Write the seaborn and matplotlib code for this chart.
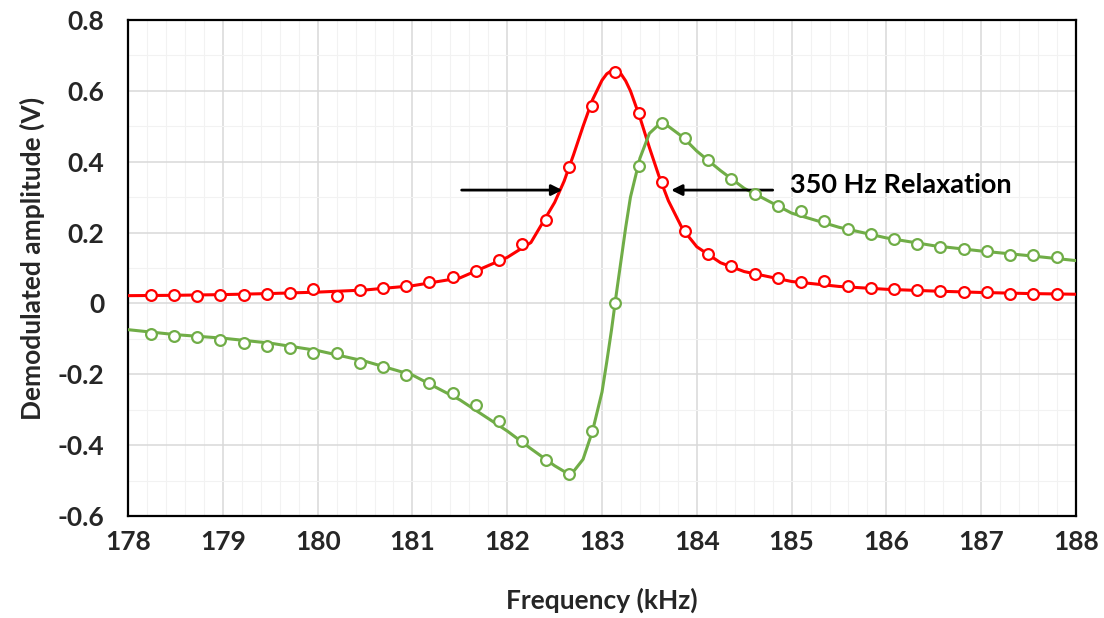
import matplotlib.pyplot as plt
import seaborn as sns
import numpy as np
import pandas as pd

# Points mesurés (cercles) : fréquence en kHz, amplitudes en V
freq = [178.24, 178.485, 178.73, 178.975, 179.22, 179.465, 179.71, 179.955,
        180.2, 180.445, 180.69, 180.935, 181.18, 181.425, 181.67, 181.915,
        182.16, 182.405, 182.65, 182.895, 183.14, 183.385, 183.63, 183.875,
        184.12, 184.365, 184.61, 184.855, 185.1, 185.345, 185.59, 185.835,
        186.08, 186.325, 186.57, 186.815, 187.06, 187.305, 187.55, 187.795]
in_phase = [0.023, 0.023, 0.020, 0.023, 0.025, 0.027, 0.029, 0.040,
            0.020, 0.037, 0.044, 0.049, 0.060, 0.074, 0.091, 0.123,
            0.167, 0.236, 0.385, 0.556, 0.653, 0.538, 0.342, 0.204,
            0.140, 0.106, 0.084, 0.072, 0.060, 0.062, 0.048, 0.044,
            0.040, 0.037, 0.034, 0.031, 0.031, 0.028, 0.028, 0.026]
quadrature = [-0.086, -0.091, -0.095, -0.102, -0.111, -0.119, -0.126, -0.140,
              -0.140, -0.168, -0.180, -0.201, -0.224, -0.252, -0.288, -0.333,
              -0.387, -0.442, -0.481, -0.361, 0.000, 0.387, 0.508, 0.468,
              0.404, 0.352, 0.308, 0.274, 0.260, 0.233, 0.211, 0.197,
              0.183, 0.169, 0.159, 0.154, 0.148, 0.138, 0.136, 0.131]

# Courbes ajustées (traits continus)
fit_freq = [178.0, 178.5, 179.0, 179.5, 180.0, 180.5, 181.0, 181.5, 182.0,
            182.25, 182.5, 182.6, 182.7, 182.8, 182.9, 183.0, 183.05, 183.1,
            183.15, 183.2, 183.25, 183.3, 183.4, 183.5, 183.6, 183.7, 183.85,
            184.0, 184.25, 184.5, 185.0, 185.5, 186.0, 186.5, 187.0, 187.5,
            188.0]
fit_in_phase = [0.022, 0.023, 0.025, 0.028, 0.032, 0.038, 0.050, 0.072, 0.130,
                0.172, 0.285, 0.345, 0.420, 0.500, 0.575, 0.630, 0.648, 0.657,
                0.658, 0.648, 0.628, 0.600, 0.525, 0.440, 0.360, 0.290, 0.210,
                0.160, 0.115, 0.090, 0.062, 0.048, 0.040, 0.035, 0.031, 0.028,
                0.026]
fit_quadrature = [-0.074, -0.088, -0.098, -0.112, -0.133, -0.163, -0.202, -0.272, -0.360,
                  -0.410, -0.458, -0.474, -0.474, -0.440, -0.360, -0.250, -0.165, -0.075,
                  0.025, 0.120, 0.215, 0.300, 0.410, 0.480, 0.505, 0.500, 0.470,
                  0.430, 0.375, 0.325, 0.255, 0.215, 0.185, 0.163, 0.148, 0.135,
                  0.121]

rouge = '#FF0000'
vert = '#70AD47'

sns.set_theme(style="white")
plt.rcParams['font.family'] = ['Lato', 'DejaVu Sans']
plt.rcParams['font.weight'] = 'bold'

fig = plt.figure(figsize=(11.04, 6.18), dpi=100)
ax = fig.add_axes([0.116, 0.165, 0.8586, 0.8026])

fit = pd.DataFrame({'f': fit_freq, 'x': fit_in_phase, 'y': fit_quadrature})
pts = pd.DataFrame({'f': freq, 'x': in_phase, 'y': quadrature})

sns.lineplot(data=fit, x='f', y='x', color=rouge, lw=2.2, sort=False, ax=ax, zorder=3)
sns.lineplot(data=fit, x='f', y='y', color=vert, lw=2.2, sort=False, ax=ax, zorder=3)
sns.scatterplot(data=pts, x='f', y='x', s=60, facecolor='white', edgecolor=rouge,
                linewidth=1.6, ax=ax, zorder=4)
sns.scatterplot(data=pts, x='f', y='y', s=60, facecolor='white', edgecolor=vert,
                linewidth=1.6, ax=ax, zorder=4)

ax.set_xlim(178, 188)
ax.set_ylim(-0.6, 0.8)
ax.set_xticks(range(178, 189))
ax.set_yticks([-0.6, -0.4, -0.2, 0, 0.2, 0.4, 0.6, 0.8])
ax.set_yticklabels(['-0.6', '-0.4', '-0.2', '0', '0.2', '0.4', '0.6', '0.8'])
ax.set_xticks(np.arange(178, 188.01, 0.2), minor=True)
ax.set_yticks(np.arange(-0.6, 0.801, 0.1), minor=True)
ax.grid(True, which='major', color='#D9D9D9', lw=1.1)
ax.grid(True, which='minor', color='#F2F2F2', lw=0.8)
ax.set_axisbelow(True)
ax.tick_params(axis='both', which='both', length=0, labelsize=19)
ax.tick_params(axis='y', pad=17)
ax.tick_params(axis='x', pad=10)
for s in ax.spines.values():
    s.set_color('black')
    s.set_linewidth(1.6)

ax.set_xlabel('Frequency (kHz)', fontsize=19, fontweight='bold')
ax.set_ylabel('Demodulated amplitude (V)', fontsize=19, fontweight='bold')
ax.xaxis.set_label_coords(0.5, -0.145)
ax.yaxis.set_label_coords(-0.088, 0.52)

# Flèches et annotation
ax.annotate('', xy=(182.61, 0.320), xytext=(181.49, 0.320),
            arrowprops=dict(arrowstyle='-|>', color='black', lw=2, mutation_scale=16))
ax.annotate('', xy=(183.70, 0.320), xytext=(184.83, 0.320),
            arrowprops=dict(arrowstyle='-|>', color='black', lw=2, mutation_scale=16))
ax.text(184.98, 0.333, '350 Hz Relaxation', fontsize=19.5, fontweight='bold',
        va='center', ha='left', color='black')

fig.savefig('out.png', dpi=100)
